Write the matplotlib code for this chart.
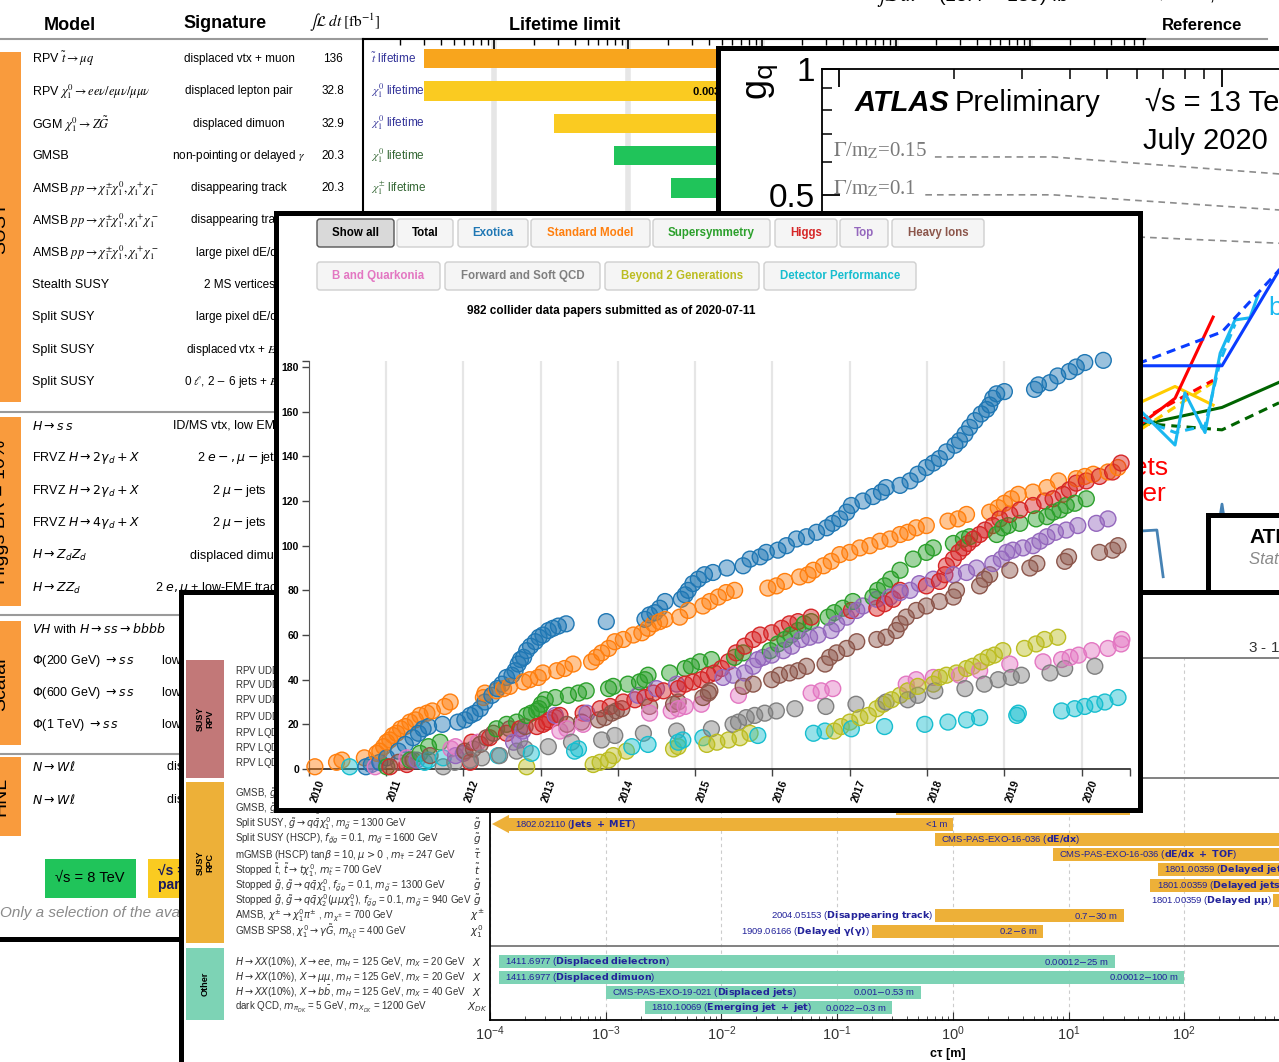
import numpy as np
import matplotlib
matplotlib.use("Agg")
import matplotlib.pyplot as plt
from matplotlib.colors import to_rgba
from matplotlib.patches import Rectangle, FancyBboxPatch, Polygon
from matplotlib.ticker import FixedLocator, LogLocator, NullFormatter

plt.rcParams["font.family"] = ["Liberation Sans", "DejaVu Sans"]
plt.rcParams["mathtext.fontset"] = "dejavusans"

# ---------------------------------------------------------------------------
# cumulative collider papers per physics group (decimal year, running total)
# ---------------------------------------------------------------------------
exotica_t = [2010.74, 2010.81, 2010.92, 2011.01, 2011.16, 2011.25, 2011.35, 2011.42, 2011.48, 2011.55,
             2011.73, 2011.93, 2012.02, 2012.09, 2012.15, 2012.22, 2012.28, 2012.37, 2012.44, 2012.50,
             2012.56, 2012.63, 2012.67, 2012.71, 2012.74, 2012.78, 2012.82, 2012.87, 2012.93, 2012.98,
             2013.03, 2013.10, 2013.16, 2013.23, 2013.33, 2013.85, 2014.35, 2014.41, 2014.48, 2014.54,
             2014.61, 2014.82, 2014.87, 2014.91, 2014.97, 2015.04, 2015.12, 2015.23, 2015.41, 2015.62,
             2015.71, 2015.84, 2015.92, 2016.07, 2016.18, 2016.31, 2016.44, 2016.57, 2016.70, 2016.78,
             2016.87, 2016.96, 2017.02, 2017.17, 2017.30, 2017.41, 2017.47, 2017.65, 2017.78, 2017.88,
             2017.99, 2018.08, 2018.16, 2018.25, 2018.36, 2018.42, 2018.49, 2018.55, 2018.62, 2018.70,
             2018.77, 2018.81, 2018.85, 2018.90, 2019.00, 2019.39, 2019.44, 2019.59, 2019.69, 2019.84,
             2019.93, 2020.04, 2020.28]
exotica_n = [1, 2, 3, 5, 8, 11, 14, 16, 18, 19,
             20, 21, 22, 24, 25, 27, 30, 33, 36, 38,
             41, 42, 44, 47, 49, 50, 53, 55, 57, 59,
             60, 62, 63, 64, 65, 66, 67, 69, 70, 72,
             75, 76, 78, 80, 83, 85, 87, 88, 90, 91,
             94, 95, 97, 98, 100, 103, 104, 106, 108, 110,
             112, 115, 118, 120, 122, 124, 126, 127, 129, 132,
             135, 137, 139, 142, 145, 147, 150, 153, 156, 159,
             161, 163, 166, 168, 169, 170, 172, 173, 176, 178,
             180, 182, 183]

sm_t = [2010.08, 2010.36, 2010.43, 2010.72, 2010.88, 2010.92, 2010.97, 2011.01, 2011.05, 2011.09,
        2011.14, 2011.19, 2011.25, 2011.31, 2011.38, 2011.44, 2011.53, 2011.60, 2011.76, 2011.83,
        2012.26, 2012.28, 2012.43, 2012.52, 2012.60, 2012.78, 2012.86, 2012.97, 2013.03, 2013.21,
        2013.31, 2013.42, 2013.66, 2013.72, 2013.79, 2013.88, 2013.96, 2014.07, 2014.20, 2014.31,
        2014.39, 2014.46, 2014.54, 2014.61, 2014.80, 2014.91, 2015.10, 2015.19, 2015.30, 2015.40,
        2015.51, 2015.94, 2016.05, 2016.16, 2016.35, 2016.46, 2016.53, 2016.66, 2016.76, 2016.87,
        2017.00, 2017.13, 2017.26, 2017.39, 2017.52, 2017.65, 2017.75, 2017.86, 2017.99, 2018.27,
        2018.40, 2018.51, 2018.81, 2018.92, 2019.00, 2019.09, 2019.18, 2019.37, 2019.55, 2019.70,
        2019.93, 2020.04, 2020.15, 2020.34, 2020.47]
sm_n = [1, 3, 4, 5, 7, 8, 10, 12, 13, 15,
        16, 18, 19, 21, 22, 24, 25, 26, 28, 30,
        32, 34, 35, 36, 37, 39, 40, 41, 43, 44,
        45, 47, 48, 50, 52, 54, 57, 58, 60, 61,
        63, 65, 66, 67, 68, 71, 73, 75, 77, 79,
        80, 81, 82, 84, 86, 87, 89, 91, 93, 96,
        97, 99, 100, 102, 103, 105, 106, 108, 109, 111,
        112, 114, 115, 117, 119, 121, 123, 124, 126, 129,
        130, 131, 132, 133, 135]

susy_t = [2011.01, 2011.31, 2011.44, 2011.55, 2011.70, 2012.43, 2012.56, 2012.69, 2012.82, 2012.88,
          2012.95, 2012.98, 2013.01, 2013.06, 2013.19, 2013.36, 2013.49, 2013.59, 2013.88, 2013.94,
          2014.13, 2014.28, 2014.35, 2014.39, 2014.67, 2014.87, 2014.95, 2015.06, 2015.21, 2015.51,
          2015.62, 2015.97, 2016.07, 2016.16, 2016.24, 2016.33, 2016.41, 2016.50, 2016.72, 2016.80,
          2016.91, 2017.04, 2017.30, 2017.36, 2017.45, 2017.53, 2017.65, 2017.82, 2017.99, 2018.08,
          2018.34, 2018.47, 2018.55, 2018.90, 2018.98, 2019.05, 2019.20, 2019.41, 2019.55, 2019.63,
          2019.72, 2019.80, 2019.91, 2020.06]
susy_n = [1, 4, 7, 10, 12, 18, 20, 21, 24, 25,
          26, 27, 29, 31, 32, 33, 34, 35, 36, 37,
          38, 39, 40, 42, 43, 45, 46, 48, 49, 50,
          52, 53, 56, 58, 60, 62, 65, 66, 68, 70,
          72, 75, 77, 80, 82, 85, 89, 94, 97, 99,
          101, 103, 104, 105, 108, 109, 110, 112, 113, 115,
          116, 118, 119, 121]

higgs_t = [2011.05, 2011.27, 2012.09, 2012.11, 2012.34, 2012.56, 2012.73, 2012.95, 2013.03, 2013.08,
           2013.12, 2013.19, 2013.25, 2013.55, 2013.77, 2013.90, 2014.07, 2014.22, 2014.35, 2014.46,
           2014.59, 2014.78, 2014.87, 2014.97, 2015.08, 2015.17, 2015.25, 2015.34, 2015.43, 2015.53,
           2015.64, 2015.75, 2015.84, 2015.99, 2016.12, 2016.22, 2016.33, 2016.50, 2017.02, 2017.35,
           2017.45, 2017.56, 2017.65, 2017.99, 2018.16, 2018.23, 2018.25, 2018.34, 2018.41, 2018.47,
           2018.53, 2018.60, 2018.68, 2018.75, 2018.85, 2018.94, 2019.07, 2019.20, 2019.37, 2019.52,
           2019.63, 2019.76, 2019.84, 2019.93, 2020.06, 2020.23, 2020.40, 2020.51]
higgs_n = [1, 2, 3, 12, 14, 16, 18, 19, 20, 21,
           22, 23, 24, 25, 27, 28, 30, 31, 32, 34,
           35, 36, 38, 39, 40, 42, 43, 45, 48, 52,
           55, 58, 60, 61, 63, 65, 66, 68, 71, 72,
           74, 76, 80, 82, 84, 87, 91, 94, 97, 99,
           101, 103, 105, 107, 109, 112, 114, 116, 118, 120,
           121, 123, 125, 128, 129, 131, 133, 137]

top_t = [2011.40, 2011.90, 2012.00, 2012.65, 2012.73, 2012.77, 2013.19, 2013.60, 2014.26, 2014.50,
         2014.76, 2015.36, 2015.49, 2015.64, 2015.75, 2015.81, 2015.88, 2015.99, 2016.14, 2016.25,
         2016.37, 2016.48, 2016.59, 2016.76, 2016.83, 2016.96, 2017.09, 2017.17, 2017.35, 2017.52,
         2017.65, 2017.78, 2017.90, 2018.08, 2018.34, 2018.51, 2018.64, 2018.85, 2018.96, 2019.03,
         2019.11, 2019.24, 2019.37, 2019.46, 2019.55, 2019.66, 2019.80, 2019.95, 2020.19, 2020.34]
top_n = [4, 6, 7, 12, 13, 17, 24, 25, 33, 36,
         38, 41, 42, 43, 46, 49, 50, 51, 53, 55,
         58, 59, 60, 62, 65, 68, 71, 73, 76, 77,
         79, 80, 83, 85, 87, 88, 90, 92, 94, 97,
         98, 99, 100, 102, 104, 106, 107, 109, 110, 112]

hi_t = [2011.16, 2011.35, 2011.57, 2012.02, 2012.13, 2012.22, 2012.30, 2012.39, 2012.60, 2012.80,
        2013.34, 2013.53, 2013.75, 2013.83, 2013.92, 2013.98, 2014.05, 2014.41, 2014.72, 2014.78,
        2015.10, 2015.17, 2015.19, 2015.62, 2015.75, 2015.99, 2016.09, 2016.22, 2016.33, 2016.44,
        2016.68, 2016.74, 2016.83, 2016.96, 2017.09, 2017.35, 2017.47, 2017.60, 2017.65, 2017.73,
        2017.86, 2017.99, 2018.16, 2018.34, 2018.38, 2018.68, 2018.74, 2018.81, 2019.07, 2019.33,
        2019.42, 2019.78, 2019.83, 2020.23, 2020.40, 2020.47]
hi_n = [3, 4, 6, 8, 9, 11, 14, 16, 18, 19,
        20, 21, 22, 23, 25, 26, 27, 28, 29, 30,
        32, 34, 35, 37, 38, 40, 42, 43, 44, 46,
        47, 50, 52, 54, 57, 58, 59, 62, 65, 68,
        71, 73, 75, 77, 80, 82, 85, 87, 89, 90,
        92, 93, 95, 97, 98, 100]

bq_t = [2010.86, 2011.27, 2011.84, 2011.90, 2012.19, 2013.25, 2013.34, 2013.55, 2014.41, 2014.69,
        2014.78, 2014.87, 2015.08, 2015.56, 2016.50, 2016.63, 2016.78, 2017.73, 2017.86, 2018.08,
        2018.42, 2018.68, 2019.07, 2019.50, 2019.74, 2019.85, 2019.96, 2020.13, 2020.34, 2020.51,
        2020.52]
bq_n = [1, 5, 9, 10, 12, 17, 18, 20, 25, 26,
        27, 28, 29, 33, 34, 35, 36, 38, 40, 41,
        42, 44, 47, 48, 49, 50, 51, 53, 54, 56,
        58]

fsq_t = [2011.74, 2011.89, 2012.09, 2012.24, 2012.47, 2012.69, 2012.80, 2013.10, 2013.40, 2013.79,
         2013.96, 2014.33, 2014.76, 2015.21, 2015.49, 2015.56, 2015.66, 2015.77, 2015.90, 2016.05,
         2016.29, 2016.69, 2017.08, 2017.47, 2017.75, 2017.88, 2018.10, 2018.49, 2018.74, 2018.92,
         2019.09, 2019.22, 2019.59, 2019.78, 2020.17]
fsq_n = [1, 3, 4, 5, 6, 8, 9, 10, 12, 13,
         15, 16, 17, 18, 20, 21, 23, 24, 25, 26,
         27, 28, 29, 30, 31, 33, 35, 36, 38, 40,
         41, 42, 43, 45, 46]

b2g_t = [2012.82, 2013.68, 2013.77, 2013.88, 2013.94, 2014.11, 2014.72, 2014.78, 2015.15, 2015.28,
         2015.43, 2015.58, 2015.71, 2016.80, 2016.89, 2017.00, 2017.13, 2017.24, 2017.35, 2017.43,
         2017.54, 2017.65, 2017.75, 2017.88, 2018.08, 2018.16, 2018.25, 2018.38, 2018.51, 2018.59,
         2018.70, 2018.79, 2018.87, 2018.98, 2019.26, 2019.41, 2019.52, 2019.69]
b2g_n = [1, 2, 3, 4, 6, 8, 9, 10, 11, 12,
         13, 14, 16, 17, 19, 21, 23, 24, 27, 29,
         31, 33, 35, 37, 38, 41, 42, 43, 45, 46,
         48, 50, 51, 53, 54, 56, 58, 59]

dp_t = [2010.53, 2011.50, 2011.55, 2011.74, 2012.45, 2012.88, 2013.44, 2013.49, 2014.18, 2014.39,
        2014.78, 2014.84, 2015.10, 2015.81, 2016.53, 2016.68, 2017.02, 2017.45, 2017.97, 2018.27,
        2018.51, 2018.68, 2019.16, 2019.18, 2019.74, 2019.91, 2020.04, 2020.17, 2020.30, 2020.47]
dp_n = [1, 3, 4, 5, 6, 7, 8, 9, 10, 11,
        12, 13, 14, 15, 16, 17, 18, 19, 20, 21,
        22, 23, 24, 25, 26, 27, 28, 29, 30, 32]

groups = ["Exotica", "Standard Model", "Supersymmetry", "Higgs", "Top", "Heavy Ions",
          "B and Quarkonia", "Forward and Soft QCD", "Beyond 2 Generations", "Detector Performance"]
group_t = [exotica_t, sm_t, susy_t, higgs_t, top_t, hi_t, bq_t, fsq_t, b2g_t, dp_t]
group_n = [exotica_n, sm_n, susy_n, higgs_n, top_n, hi_n, bq_n, fsq_n, b2g_n, dp_n]
group_colors = ["#1f77b4", "#ff7f0e", "#2ca02c", "#d62728", "#9467bd", "#8c564b",
                "#e377c2", "#7f7f7f", "#bcbd22", "#17becf"]
n_papers = 982
as_of = "2020-07-11"

# ---------------------------------------------------------------------------
# ATLAS long-lived particle table (background, top left)
# ---------------------------------------------------------------------------
susy_models = [r"RPV $\tilde{t}\rightarrow\mu q$",
               r"RPV $\chi^0_1\rightarrow ee\nu/e\mu\nu/\mu\mu\nu$",
               r"GGM $\chi^0_1\rightarrow Z\tilde{G}$",
               "GMSB",
               r"AMSB $pp\rightarrow\chi^{\pm}_1\chi^0_1,\chi^+_1\chi^-_1$",
               r"AMSB $pp\rightarrow\chi^{\pm}_1\chi^0_1,\chi^+_1\chi^-_1$",
               r"AMSB $pp\rightarrow\chi^{\pm}_1\chi^0_1,\chi^+_1\chi^-_1$",
               "Stealth SUSY", "Split SUSY", "Split SUSY", "Split SUSY"]
susy_signatures = ["displaced vtx + muon", "displaced lepton pair", "displaced dimuon",
                   r"non-pointing or delayed $\gamma$", "disappearing track", "disappearing track",
                   "large pixel dE/dx", "2 MS vertices", "large pixel dE/dx",
                   r"displaced vtx + $E_T^{miss}$", r"0 $\ell$, 2 $-$ 6 jets + $E_T^{miss}$"]
susy_lumi = ["136", "32.8", "32.9", "20.3", "20.3"]
higgs_models = [r"$H\rightarrow s\,s$", r"FRVZ $H\rightarrow 2\gamma_d+X$", r"FRVZ $H\rightarrow 2\gamma_d+X$",
                r"FRVZ $H\rightarrow 4\gamma_d+X$", r"$H\rightarrow Z_dZ_d$", r"$H\rightarrow ZZ_d$"]
higgs_signatures = ["ID/MS vtx, low EMF jets", r"2 $e-,\mu-$jets", r"2 $\mu-$jets", r"2 $\mu-$jets",
                    "displaced dimuon", r"2 $e,\mu$ + low-EMF trackless jet"]
scalar_models = [r"$VH$ with $H\rightarrow ss\rightarrow bbbb$", r"$\Phi$(200 GeV) $\rightarrow s\,s$",
                 r"$\Phi$(600 GeV) $\rightarrow s\,s$", r"$\Phi$(1 TeV) $\rightarrow s\,s$"]
scalar_signatures = ["", "low-EMF trk-less jets, MS vtx", "low-EMF trk-less jets, MS vtx",
                     "low-EMF trk-less jets, MS vtx"]
hnl_models = [r"$N\rightarrow W\ell$", r"$N\rightarrow W\ell$"]
hnl_signatures = ["displaced vtx + muon", "displaced vtx + electron"]

lifetime_labels = [r"$\tilde{t}$ lifetime", r"$\chi^0_1$ lifetime", r"$\chi^0_1$ lifetime",
                   r"$\chi^0_1$ lifetime", r"$\chi^{\pm}_1$ lifetime"]
lifetime_lo = [0.003, 0.003, 0.028, 0.078, 0.21]   # m
lifetime_hi = [4.0, 1.0, 1.6, 2.9, 0.9]            # m

# ---------------------------------------------------------------------------
# ATLAS dark matter g_q vs m_Z' summary (background, top right)
# ---------------------------------------------------------------------------
dm_blue_m, dm_blue_g = [560, 618, 1000, 1409], [0.195, 0.195, 0.195, 0.330]
dm_blue_exp_m, dm_blue_exp_g = [560, 618, 1000, 1409], [0.188, 0.199, 0.235, 0.330]
dm_red_m, dm_red_g = [560, 618, 754, 948], [0.136, 0.142, 0.163, 0.255]
dm_red_exp_m, dm_red_exp_g = [560, 618, 948], [0.140, 0.145, 0.180]
dm_yellow_m, dm_yellow_g = [560, 618, 754, 948], [0.155, 0.160, 0.174, 0.157]
dm_yellow_exp_m, dm_yellow_exp_g = [618, 948], [0.138, 0.178]
dm_cyan_m = [618, 754, 800, 903, 989, 1081, 1183, 1242]
dm_cyan_g = [0.151, 0.126, 0.168, 0.135, 0.209, 0.251, 0.254, 0.288]
dm_cyan_exp_m, dm_cyan_exp_g = [618, 754, 903, 989, 1081], [0.145, 0.135, 0.140, 0.200, 0.245]
dm_green_m, dm_green_g = [560, 618, 1000, 1409], [0.140, 0.141, 0.155, 0.178]
dm_green_exp_m, dm_green_exp_g = [560, 618, 1000, 1409], [0.142, 0.142, 0.137, 0.159]
dm_tla_m, dm_tla_g = [560, 618, 676, 702], [0.0785, 0.0785, 0.0789, 0.061]
dm_tla2_m, dm_tla2_g = [985, 1000, 1015], [0.083, 0.091, 0.083]
width15_m, width15_g = [178, 362, 1409], [0.616, 0.616, 0.561]
width10_m, width10_g = [168, 362, 1409], [0.500, 0.500, 0.460]
width05_m, width05_g = [300, 618, 1409], [0.400, 0.396, 0.383]

# ---------------------------------------------------------------------------
# CMS long-lived particle lifetime exclusions (background, bottom)
# ---------------------------------------------------------------------------
rpv_models = [r"RPV UDD, $\tilde{t}\rightarrow\bar{d}\bar{s}$, $m_{\tilde{t}}$ = 1600 GeV",
              r"RPV UDD, $\tilde{g}\rightarrow tbs$, $m_{\tilde{g}}$ = 2400 GeV",
              r"RPV UDD, $\tilde{g}\rightarrow tbs$, $m_{\tilde{g}}$ = 1600 GeV",
              r"RPV UDD, $\tilde{g}\rightarrow\bar{u}\bar{d}\bar{s}$, $m_{\tilde{g}}$ = 2400 GeV",
              r"RPV LQD, $\tilde{t}\rightarrow b\ell$, $m_{\tilde{t}}$ = 1600 GeV",
              r"RPV LQD, $\tilde{t}\rightarrow b\ell$, $m_{\tilde{t}}$ = 1000 GeV",
              r"RPV LQD, $\tilde{t}\rightarrow b\ell$, $m_{\tilde{t}}$ = 600 GeV"]
rpc_models = [r"GMSB, $\tilde{g}\rightarrow g\tilde{G}$, $m_{\tilde{g}}$ = 2500 GeV",
              r"GMSB, $\tilde{g}\rightarrow g\tilde{G}$, $m_{\tilde{g}}$ = 1500 GeV",
              r"Split SUSY, $\tilde{g}\rightarrow q\bar{q}\chi^0_1$, $m_{\tilde{g}}$ = 1300 GeV",
              r"Split SUSY (HSCP), $f_{\tilde{g}g}$ = 0.1, $m_{\tilde{g}}$ = 1600 GeV",
              r"mGMSB (HSCP) tan$\beta$ = 10, $\mu>0$ , $m_{\tilde{\tau}}$ = 247 GeV",
              r"Stopped $\tilde{t}$, $\tilde{t}\rightarrow t\chi^0_1$, $m_{\tilde{t}}$ = 700 GeV",
              r"Stopped $\tilde{g}$, $\tilde{g}\rightarrow q\bar{q}\chi^0_1$, $f_{\tilde{g}g}$ = 0.1, $m_{\tilde{g}}$ = 1300 GeV",
              r"Stopped $\tilde{g}$, $\tilde{g}\rightarrow q\bar{q}\chi^0_2(\mu\mu\chi^0_1)$, $f_{\tilde{g}g}$ = 0.1, $m_{\tilde{g}}$ = 940 GeV",
              r"AMSB, $\chi^{\pm}\rightarrow\chi^0_1\pi^{\pm}$ , $m_{\chi^{\pm}}$ = 700 GeV",
              r"GMSB SPS8, $\chi^0_1\rightarrow\gamma\tilde{G}$, $m_{\chi^0_1}$ = 400 GeV"]
other_models = [r"$H\rightarrow XX$(10%), $X\rightarrow ee$, $m_H$ = 125 GeV, $m_X$ = 20 GeV",
                r"$H\rightarrow XX$(10%), $X\rightarrow\mu\mu$, $m_H$ = 125 GeV, $m_X$ = 20 GeV",
                r"$H\rightarrow XX$(10%), $X\rightarrow b\bar{b}$, $m_H$ = 125 GeV, $m_X$ = 40 GeV",
                r"dark QCD, $m_{\pi_{DK}}$ = 5 GeV, $m_{X_{DK}}$ = 1200 GeV"]
rpv_symbols = [r"$\tilde{t}$", r"$\tilde{g}$", r"$\tilde{g}$", r"$\tilde{g}$", r"$\tilde{t}$", r"$\tilde{t}$", r"$\tilde{t}$"]
rpc_symbols = [r"$\tilde{g}$", r"$\tilde{g}$", r"$\tilde{g}$", r"$\tilde{g}$", r"$\tilde{\tau}$",
               r"$\tilde{t}$", r"$\tilde{g}$", r"$\tilde{g}$", r"$\chi^{\pm}$", r"$\chi^0_1$"]
other_symbols = [r"$X$", r"$X$", r"$X$", r"$X_{DK}$"]

rpc_lo = [np.nan, 0.32, 1.0e-4, 0.70, 7.3, 59.0, 51.0, 590.0, 0.7, 0.2]      # m
rpc_hi = [np.nan, 34.0, 1.0, 1000.0, 1000.0, 1000.0, 1000.0, 1000.0, 30.0, 6.0]
rpc_open_low = [False, False, True, False, False, False, False, False, False, False]
rpc_refs = ["", "", "1802.02110", "CMS-PAS-EXO-16-036", "CMS-PAS-EXO-16-036", "1801.00359",
            "1801.00359", "1801.00359", "2004.05153", "1909.06166"]
rpc_signatures = ["", "", "Jets + MET", "dE/dx", "dE/dx + TOF", "Delayed jets", "Delayed jets",
                  "Delayed μμ", "Disappearing track", "Delayed γ(γ)"]
rpc_show_range = [False, False, True, False, False, False, False, False, True, True]
other_lo = [0.00012, 0.00012, 0.001, 0.0022]
other_hi = [25.0, 100.0, 0.53, 0.3]
other_refs = ["1411.6977", "1411.6977", "CMS-PAS-EXO-19-021", "1810.10069"]
other_signatures = ["Displaced dielectron", "Displaced dimuon", "Displaced jets", "Emerging jet + jet"]

# ---------------------------------------------------------------------------
W, H = 1279, 1062
fig = plt.figure(figsize=(W / 100, H / 100), dpi=100)


def box(x0, y0, x1, y1):
    return [x0 / W, 1 - y1 / H, (x1 - x0) / W, (y1 - y0) / H]


def frame(x0, y0, x1, y1, z, lw=3.6):
    ax = fig.add_axes(box(x0, y0, x1, y1), zorder=z)
    ax.set_xticks([])
    ax.set_yticks([])
    ax.set_facecolor("white")
    for sp in ax.spines.values():
        sp.set_linewidth(lw)
        sp.set_color("black")
    return ax


def canvas(x0, y0, x1, y1, z):
    ax = fig.add_axes(box(x0, y0, x1, y1), zorder=z)
    ax.set_xlim(x0, x1)
    ax.set_ylim(y1, y0)
    ax.axis("off")
    return ax


def ref_label(ref, name):
    body = name.replace("μ", r"\mu").replace("γ", r"\gamma").replace(" ", r"\ ")
    return ref + r" ($\bf{" + body + r"}$)"


# ===================== ATLAS table (top left) =====================
frame(-10, -10, W + 20, 939, 1)
ca = canvas(0, 0, W, 939, 1)
ca.text(70, 25, "Model", fontsize=13, fontweight="bold", ha="center", va="center")
ca.text(225, 23, "Signature", fontsize=13, fontweight="bold", ha="center", va="center")
ca.text(345, 23, r"$\int\mathcal{L}\,dt\;[\mathrm{fb}^{-1}]$", fontsize=11, ha="center", va="center",
        math_fontfamily="stix")
ca.text(565, 25, "Lifetime limit", fontsize=13, fontweight="bold", ha="center", va="center")
ca.text(1202, 25, "Reference", fontsize=12, fontweight="bold", ha="center", va="center")
ca.text(980, -4, r"$\int\mathcal{L}\,dt$ = (18.4 $-$ 139) fb$^{-1}$", fontsize=14, ha="center",
        va="center", math_fontfamily="stix")
ca.text(1218, -4, "√s = 8, 13 TeV", fontsize=14, ha="center", va="center")
ca.plot([0, 1267], [39, 39], color="#9a9a9a", lw=1.5)

for y0, y1, name in [(52, 402, "SUSY"), (417, 606, "Higgs BR = 10%"), (621, 745, "Scalar"),
                     (757, 836, "HNL")]:
    ca.add_patch(Rectangle((0, y0), 21, y1 - y0, color="#F99B3D", lw=0))
    ca.text(1, (y0 + y1) / 2, name, rotation=90, fontsize=14, ha="center", va="center")
for y in [412, 615, 754]:
    ca.plot([0, 1235], [y, y], color="#9a9a9a", lw=1.5)

for i, (m, s) in enumerate(zip(susy_models, susy_signatures)):
    y = 59 + 32.3 * i
    ca.text(32, y, m, fontsize=9, va="center", math_fontfamily="stix")
    ca.text(239, y, s, fontsize=8.5, ha="center", va="center", math_fontfamily="stix")
for i, lumi in enumerate(susy_lumi):
    ca.text(333, 59 + 32.3 * i, lumi, fontsize=8.5, ha="center", va="center")
for i, (m, s) in enumerate(zip(higgs_models, higgs_signatures)):
    y = 426 + 32.4 * i
    ca.text(32, y, m, fontsize=9, va="center")
    ca.text(239, y, s, fontsize=9, ha="center", va="center")
for i, (m, s) in enumerate(zip(scalar_models, scalar_signatures)):
    y = 629 + 32.1 * i
    ca.text(32, y, m, fontsize=9, va="center")
    ca.text(162, y, s, fontsize=9, va="center")
for i, (m, s) in enumerate(zip(hnl_models, hnl_signatures)):
    y = 767 + 32.5 * i
    ca.text(32, y, m, fontsize=9, va="center")
    ca.text(167, y, s, fontsize=9, va="center")

ca.add_patch(Rectangle((45, 859), 91, 39, color="#20C45A", lw=0))
ca.text(90, 878, "√s = 8 TeV", fontsize=10.5, ha="center", va="center")
ca.add_patch(Rectangle((148, 859), 92, 39, color="#FACB21", lw=0))
ca.text(158, 878, "√s = 13 TeV\npartial data", fontsize=10, fontweight="bold", color="#1a1a5e",
        va="center", linespacing=1.05)
ca.text(0, 913, "Only a selection of the available lifetime limits is shown.", fontsize=11,
        fontstyle="italic", color="#8a8a8a", va="center")

al = fig.add_axes(box(363, 39, 1145, 412), zorder=1)
al.patch.set_alpha(0)
al.set_xscale("log")
al.set_xlim(10 ** (-3 + 3 / 134), 10 ** (-3 + 785 / 134))
al.set_ylim(10.9, -0.6)
for x in [1e-2, 1e-1, 1, 10, 100]:
    al.axvline(x, color="#e6e6e6", lw=4, zorder=0)
lt_rows = np.arange(len(lifetime_lo))
lt_colors = ["#F8A51D", "#FACB21", "#FACB21", "#20C45A", "#20C45A"]
al.barh(lt_rows, np.array(lifetime_hi) - np.array(lifetime_lo), left=lifetime_lo, height=0.6,
        color=lt_colors, zorder=2)
for r, lab in zip(lt_rows, lifetime_labels):
    al.text(1.2e-3, r, lab, fontsize=8.5, va="center", math_fontfamily="stix",
            color="#333399" if r < 3 else "#336633", zorder=3)
al.text(0.3, 1, f"{lifetime_lo[1]:g}$-${lifetime_hi[1]:.1f} m", fontsize=8, fontweight="bold",
        va="center", zorder=3)
al.xaxis.tick_top()
al.tick_params(axis="x", which="major", direction="in", length=8, width=1.2, labeltop=False)
al.tick_params(axis="x", which="minor", direction="in", length=4, width=1.0, labeltop=False)
al.set_yticks([])
for side in ["right", "bottom"]:
    al.spines[side].set_visible(False)
for side in ["left", "top"]:
    al.spines[side].set_linewidth(1.5)

# ===================== ATLAS dark matter plot (top right) =====================
frame(717.5, 47.5, W + 30, 594, 2)
ab = fig.add_axes(box(822, 69, 1350, 594), zorder=2)
ab.patch.set_alpha(0)
ab.set_xscale("log")
ab.set_yscale("log")
ab.set_xlim(10 ** (2 - 17 / 383), 10 ** (2 + 511 / 383))
ab.set_ylim(10 ** (-(594 - 69) / 418), 1.0)
for side in ["right", "bottom"]:
    ab.spines[side].set_visible(False)
for side in ["left", "top"]:
    ab.spines[side].set_linewidth(1.3)
ab.tick_params(which="both", direction="in", top=True, bottom=False, left=True, right=False,
               labelbottom=False, labeltop=False)
ab.tick_params(which="major", length=13, width=1.3, pad=5)
ab.tick_params(which="minor", length=7, width=1.1)
ab.xaxis.set_major_locator(FixedLocator([100, 1000]))
ab.xaxis.set_minor_locator(LogLocator(subs=np.arange(2, 10)))
ab.xaxis.set_minor_formatter(NullFormatter())
ab.set_yticks([0.1, 0.2, 0.3, 0.4, 0.5, 1.0])
ab.set_yticklabels(["0.1", "0.2", "0.3", "0.4", "0.5", "1"], fontsize=24)
ab.yaxis.set_minor_locator(FixedLocator([0.06, 0.07, 0.08, 0.09, 0.6, 0.7, 0.8, 0.9]))
ab.yaxis.set_minor_formatter(NullFormatter())

dash = (0, (3, 2))
ab.plot(width15_m, width15_g, color="#8c8c8c", ls=(0, (4, 3)), lw=1.2)
ab.plot(width10_m, width10_g, color="#8c8c8c", ls=(0, (4, 3)), lw=1.2)
ab.plot(width05_m, width05_g, color="#8c8c8c", ls=(0, (4, 3)), lw=1.2)
ab.plot(dm_green_m, dm_green_g, color="#006400", lw=2.2)
ab.plot(dm_green_exp_m, dm_green_exp_g, color="#006400", lw=2.2, ls=dash)
ab.plot(dm_yellow_m, dm_yellow_g, color="#ffcc00", lw=2.2)
ab.plot(dm_yellow_exp_m, dm_yellow_exp_g, color="#ffcc00", lw=2.2, ls=dash)
ab.plot(dm_red_m, dm_red_g, color="#ff0000", lw=2.2)
ab.plot(dm_red_exp_m, dm_red_exp_g, color="#ff0000", lw=2.2, ls=dash)
ab.plot(dm_cyan_m, dm_cyan_g, color="#1ab8f0", lw=2.2)
ab.plot(dm_cyan_exp_m, dm_cyan_exp_g, color="#1ab8f0", lw=2.2, ls=dash)
ab.plot(dm_blue_m, dm_blue_g, color="#0a3cff", lw=2.2)
ab.plot(dm_blue_exp_m, dm_blue_exp_g, color="#0a3cff", lw=2.2, ls=dash)
ab.plot(dm_tla_m, dm_tla_g, color="#4682b4", lw=2.0)
ab.plot(dm_tla2_m, dm_tla2_g, color="#4682b4", lw=2.0)

cb = canvas(717.5, 47.5, W, 594, 2)
cb.text(763, 82, r"g$_{\rm q}$", rotation=90, fontsize=26, ha="center", va="center")
cb.text(855, 103, "ATLAS", fontsize=21, fontweight="bold", fontstyle="italic", va="center")
cb.text(955, 103, "Preliminary", fontsize=21, va="center")
cb.text(1145, 103, "√s = 13 TeV", fontsize=21, va="center")
cb.text(1143, 141, "July 2020", fontsize=21, va="center")
cb.text(833, 151, r"$\Gamma$/m$_{\rm Z}$=0.15", fontsize=15, color="#7a7a7a", va="center",
        family="Liberation Serif", math_fontfamily="stix")
cb.text(833, 189, r"$\Gamma$/m$_{\rm Z}$=0.1", fontsize=15, color="#7a7a7a", va="center",
        family="Liberation Serif", math_fontfamily="stix")
cb.text(1168, 468, "Dijet + ISR jets", fontsize=19, color="red", ha="right", va="center")
cb.text(1166, 494, "Dijet trigger", fontsize=19, color="red", ha="right", va="center")
cb.text(1268, 308, "b-jets", fontsize=19, color="#1ab8f0", va="center")

frame(1208, 515, W + 30, 600, 2)
cbb = canvas(1208, 515, W, 600, 2)
cbb.text(1249, 537, "ATLAS", fontsize=15, fontweight="bold", va="center")
cbb.text(1249, 559, "Status: July 2020", fontsize=12, fontstyle="italic", color="#8a8a8a", va="center")

# ===================== CMS lifetime summary (bottom) =====================
frame(181, 592, W + 30, H + 30, 3)
cc = canvas(181, 592, W, H, 3)
row_y0, row_dy = 671, 15.3
for y0, y1, fc, name in [(660, 778, "#C27878", "SUSY\nRPV"), (782, 943, "#EDB038", "SUSY\nRPC"),
                         (948, 1020, "#7DD3B5", "Other")]:
    cc.add_patch(Rectangle((186, y0), 38, y1 - y0, color=fc, lw=0))
    cc.text(205, (y0 + y1) / 2, name, rotation=90, fontsize=6.5, fontweight="bold", ha="center",
            va="center", linespacing=1.0)
cc.text(1248, 647, r"3 - 137 fb$^{-1}$", fontsize=11, color="#333333", va="center")

rpv_rows = np.arange(len(rpv_models))
rpc_rows = 8 + np.arange(len(rpc_models))
other_rows = 19 + np.arange(len(other_models))
for rows, models, symbols in [(rpv_rows, rpv_models, rpv_symbols), (rpc_rows, rpc_models, rpc_symbols),
                              (other_rows, other_models, other_symbols)]:
    for r, m, s in zip(rows, models, symbols):
        y = row_y0 + row_dy * r
        cc.text(235, y, m, fontsize=7, color="#333333", va="center")
        cc.text(477, y, s, fontsize=7.5, color="#333333", ha="center", va="center")

ac = fig.add_axes(box(490, 658, 1300, 1020), zorder=3)
ac.patch.set_alpha(0)
ac.set_xscale("log")
ac.set_xlim(1e-4, 1e3)
ac.set_ylim(22.81, -0.85)
ac.grid(axis="x", which="major", ls=(0, (3, 3)), color="#cccccc", lw=0.8)
ac.set_axisbelow(True)
ac.axhline(7.0, color="#777777", lw=1.3)
ac.axhline(18.0, color="#777777", lw=1.3)
txt_col = "#22229a"
for r, lo, hi, openlo, ref, sig, show in zip(rpc_rows, rpc_lo, rpc_hi, rpc_open_low, rpc_refs,
                                              rpc_signatures, rpc_show_range):
    if np.isnan(lo):
        continue
    left = 1.45e-4 if openlo else lo
    ac.barh(r, hi - left, left=left, height=0.85, color="#EDB038", lw=0)
    if openlo:
        ac.add_patch(Polygon([[1.04e-4, r], [1.46e-4, r - 0.6], [1.46e-4, r + 0.6]],
                             closed=True, color="#EDB038", lw=0))
    if ref:
        label = ref_label(ref, sig)
        if show and not openlo or lo > 300:
            ac.text(lo / 1.04, r, label, fontsize=6.8, color=txt_col, ha="right", va="center")
        else:
            ac.text(left * 1.13, r, label, fontsize=6.8, color=txt_col, va="center")
    if show:
        rng = f"<{hi:g} m" if openlo else f"{lo:g}$-${hi:g} m"
        ac.text(hi / 1.12, r, rng, fontsize=6.8, color=txt_col, ha="right", va="center")
for r, lo, hi, ref, sig in zip(other_rows, other_lo, other_hi, other_refs, other_signatures):
    ac.barh(r, hi - lo, left=lo, height=0.85, color="#7DD3B5", lw=0)
    ac.text(lo * 1.13, r, ref_label(ref, sig), fontsize=6.8, color=txt_col, va="center")
    ac.text(hi / 1.12, r, f"{lo:g}$-${hi:g} m", fontsize=6.8, color=txt_col, ha="right", va="center")
ac.set_yticks([])
ac.spines["right"].set_visible(False)
ac.spines["top"].set_color("#777777")
for side in ["top", "left", "bottom"]:
    ac.spines[side].set_linewidth(1.3)
ac.tick_params(axis="x", which="major", direction="in", length=6, labelsize=10.5, colors="#333333")
ac.tick_params(axis="x", which="minor", direction="in", length=3, colors="#333333")
ac.set_xlabel("cτ [m]", fontsize=9, fontweight="bold", x=0.565, labelpad=3)

# ===================== paper count scatter (front) =====================
frame(276, 212.5, 1139.5, 809.5, 4)
cd = canvas(276, 212.5, 1139.5, 809.5, 4)
row1 = [("Show all", 317, 394), ("Total", 397, 453), ("Exotica", 458, 528),
        ("Standard Model", 531, 650), ("Supersymmetry", 653, 770), ("Higgs", 775, 837),
        ("Top", 840, 888), ("Heavy Ions", 892, 984)]
row2 = [("B and Quarkonia", 317, 440), ("Forward and Soft QCD", 445, 600),
        ("Beyond 2 Generations", 605, 759), ("Detector Performance", 764, 916)]
label_color = dict(zip(groups, group_colors))
for buttons, (y0, y1) in [(row1, (219, 247)), (row2, (262, 290))]:
    for name, x0, x1 in buttons:
        pressed = name == "Show all"
        cd.add_patch(FancyBboxPatch((x0, y0), x1 - x0, y1 - y0, boxstyle="round,pad=0,rounding_size=3",
                                    fc="#d9d9d9" if pressed else "#f5f5f5",
                                    ec="#555555" if pressed else "#cfcfcf", lw=1.0))
        cd.text((x0 + x1) / 2, (y0 + y1) / 2, name, fontsize=8.3, fontweight="bold",
                color=label_color.get(name, "black"), ha="center", va="center")
cd.text(611, 311, f"{n_papers} collider data papers submitted as of {as_of}", fontsize=8.5,
        fontweight="bold", ha="center", va="center")

ad = fig.add_axes(box(308.7, 361, 1130, 769), zorder=4)
ad.patch.set_alpha(0)
ad.set_xlim(2010, 2020.625)
ad.set_ylim(0, 182.7)

t_all, n_all, fc_all, ec_all = [], [], [], []
for ts, ns, c in zip(group_t, group_n, group_colors):
    t_all += ts
    n_all += ns
    fc_all += [to_rgba(c, 0.45)] * len(ts)
    ec_all += [to_rgba(c, 1.0)] * len(ts)
order = np.argsort(t_all, kind="stable")
ad.scatter(np.array(t_all)[order], np.array(n_all)[order], s=130,
           facecolors=np.array(fc_all)[order], edgecolors=np.array(ec_all)[order],
           linewidths=1.0, clip_on=False, zorder=3)

years = np.arange(2010, 2021)
ad.set_xticks(years)
ad.set_xticklabels([str(y) for y in years], fontsize=7.5, fontweight="bold", rotation=70,
                   ha="left", va="top")
ad.set_xticks([2020.625], minor=True)
ad.set_yticks(np.arange(0, 181, 20))
ad.set_yticklabels([str(v) for v in np.arange(0, 181, 20)], fontsize=7.5, fontweight="bold")
ad.set_yticks([182.7], minor=True)
ad.tick_params(which="both", length=5, width=1.0, color="#444444", pad=2)
ad.grid(axis="x", which="major", color="#e6e6e6", lw=1.6)
ad.set_axisbelow(True)
ad.spines["top"].set_visible(False)
ad.spines["right"].set_visible(False)
ad.spines["left"].set_color("#555555")
ad.spines["bottom"].set_color("#222222")
ad.spines["bottom"].set_linewidth(1.2)

fig.savefig("out.png", dpi=100)
